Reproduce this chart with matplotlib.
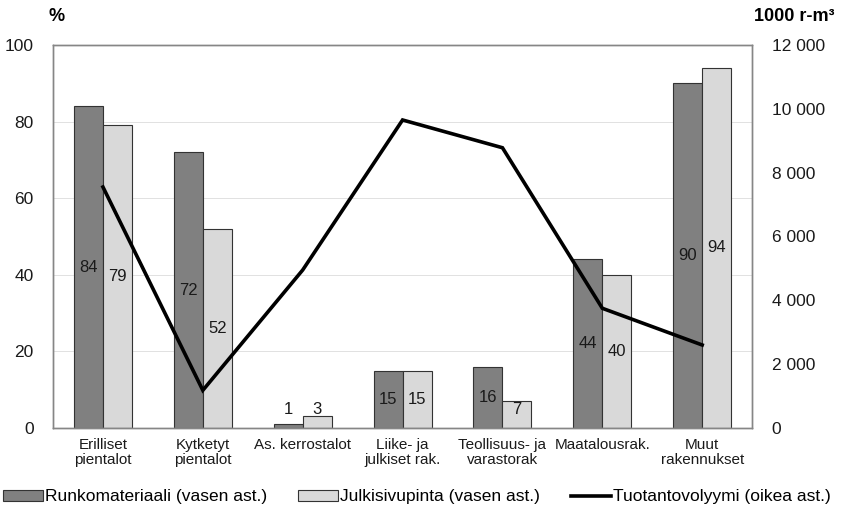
import numpy as np
import matplotlib
matplotlib.use("Agg")
import matplotlib.pyplot as plt
from matplotlib.ticker import FuncFormatter

plt.rcParams["font.family"] = ["Liberation Sans", "DejaVu Sans"]

# data
categories = ["Erilliset\npientalot", "Kytketyt\npientalot", "As. kerrostalot",
              "Liike- ja\njulkiset rak.", "Teollisuus- ja\nvarastorak",
              "Maatalousrak.", "Muut\nrakennukset"]
runko = [84, 72, 1, 15, 16, 44, 90]
julkisivu = [79, 52, 3, 15, 7, 40, 94]
volyymi = [7550, 1180, 4950, 9650, 8780, 3750, 2600]

DARK = "#808080"
LIGHT = "#d9d9d9"
FRAME = "#868686"

fig = plt.figure(figsize=(8.47, 5.23), dpi=100)
ax = fig.add_axes([0.0626, 0.1817, 0.8254, 0.7323])
ax2 = ax.twinx()

x = np.arange(len(categories))
w = 0.29
ax.bar(x - w / 2, runko, w, color=DARK, edgecolor="#333333", linewidth=0.8,
       label="Runkomateriaali (vasen ast.)", zorder=2)
ax.bar(x + w / 2, julkisivu, w, color=LIGHT, edgecolor="#333333", linewidth=0.8,
       label="Julkisivupinta (vasen ast.)", zorder=2)

# value labels, centred in bar (small ones pushed up a little)
for xs, vals in ((x - w / 2, runko), (x + w / 2, julkisivu)):
    for xi, v in zip(xs, vals):
        ax.text(xi, max(v / 2, 4.7), f"{v}", ha="center", va="center",
                fontsize=12, color="#1a1a1a", zorder=3)

ax2.plot(x, volyymi, color="black", linewidth=2.6, label="Tuotantovolyymi (oikea ast.)",
         solid_joinstyle="miter", zorder=4)

ax.set_xlim(-0.5, len(categories) - 0.5)
ax.set_ylim(0, 100)
ax2.set_ylim(0, 12000)
ax.set_yticks(range(0, 101, 20))
ax2.set_yticks(range(0, 12001, 2000))
ax2.yaxis.set_major_formatter(FuncFormatter(lambda v, p: f"{int(v):,}".replace(",", " ")))
ax.set_xticks(x)
ax.set_xticklabels(categories, fontsize=11, linespacing=1.1)

# faint gridlines
ax.grid(axis="y", color="#dcdcdc", linewidth=0.6, zorder=0)
ax.set_axisbelow(True)

ax.tick_params(axis="y", length=0, labelsize=12.5, pad=14, colors="#1a1a1a")
ax2.tick_params(axis="y", length=0, labelsize=12.5, pad=14, colors="#1a1a1a")
ax.tick_params(axis="x", length=0, pad=7, colors="#1a1a1a")

for a in (ax, ax2):
    for s in a.spines.values():
        s.set_color(FRAME)
        s.set_linewidth(1.0)

fig.text(0.067, 0.968, "%", fontsize=13, fontweight="bold", ha="center", va="center")
fig.text(0.938, 0.968, "1000 r-m³", fontsize=13, fontweight="bold", ha="center", va="center")

h1, l1 = ax.get_legend_handles_labels()
h2, l2 = ax2.get_legend_handles_labels()
fig.legend(h1 + h2, l1 + l2, loc="center", bbox_to_anchor=(0.492, 0.05), ncol=3,
           frameon=False, fontsize=12.5, handlelength=2.3, handleheight=0.6,
           handletextpad=0.1, columnspacing=1.8)

fig.savefig("out.png", dpi=100)
